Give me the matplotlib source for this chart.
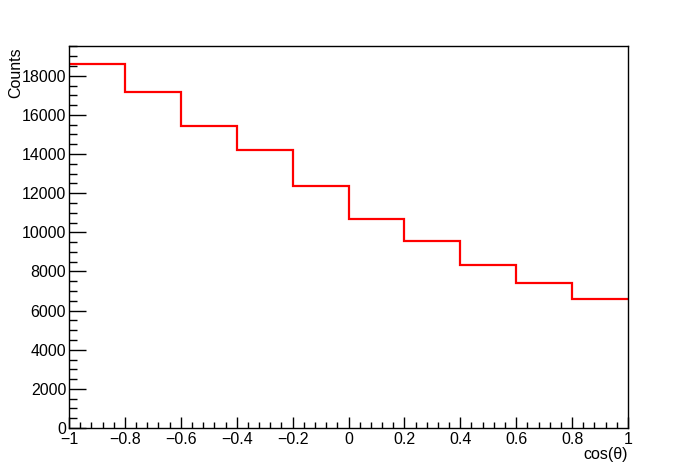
import matplotlib
matplotlib.use("Agg")
import matplotlib.pyplot as plt
import numpy as np
from matplotlib.ticker import MultipleLocator, FuncFormatter

edges = [-1.0, -0.8, -0.6, -0.4, -0.2, 0.0, 0.2, 0.4, 0.6, 0.8, 1.0]
counts = [18590, 17150, 15410, 14180, 12370, 10700, 9540, 8350, 7430, 6610]

plt.rcParams['font.family'] = ['Liberation Sans', 'DejaVu Sans']
plt.rcParams['font.size'] = 11.5

fig = plt.figure(figsize=(6.98, 4.76), dpi=100)
W, H = 698, 476
ax = fig.add_axes([69 / W, (H - 428) / H, 559 / W, 382 / H])

ax.stairs(counts, edges, baseline=None, color='#ff0000', linewidth=1.6)

ax.set_xlim(-1, 1)
ax.set_ylim(0, max(counts) * 1.05)

ax.xaxis.set_major_locator(MultipleLocator(0.2))
ax.xaxis.set_minor_locator(MultipleLocator(0.04))
ax.yaxis.set_major_locator(MultipleLocator(2000))
ax.yaxis.set_minor_locator(MultipleLocator(500))

def xfmt(v, pos):
    if abs(v) < 1e-9:
        return "0"
    if abs(abs(v) - 1) < 1e-9:
        s = "1"
    else:
        s = ("%.1f" % abs(v))
    return ("\u2212" + s) if v < 0 else s

ax.xaxis.set_major_formatter(FuncFormatter(xfmt))
ax.yaxis.set_major_formatter(FuncFormatter(lambda v, p: "%d" % round(v)))

ax.tick_params(axis='x', which='major', direction='in', length=11.5 * 0.72, width=1, pad=3.2)
ax.tick_params(axis='x', which='minor', direction='in', length=5.8 * 0.72, width=1)
ax.tick_params(axis='y', which='major', direction='in', length=16.8 * 0.72, width=1, pad=2)
ax.tick_params(axis='y', which='minor', direction='in', length=8.4 * 0.72, width=1)
ax.tick_params(top=False, right=False, labelsize=11.5)

for s in ax.spines.values():
    s.set_linewidth(1)

fig.text(16 / W, 1 - 47 / H, "Counts", rotation=90, ha='center', va='top', fontsize=11.5)
fig.text(628 / W, 1 - 455 / H, "cos(\u03b8)", ha='right', va='center', fontsize=11.5)

fig.savefig("out.png", dpi=100)
